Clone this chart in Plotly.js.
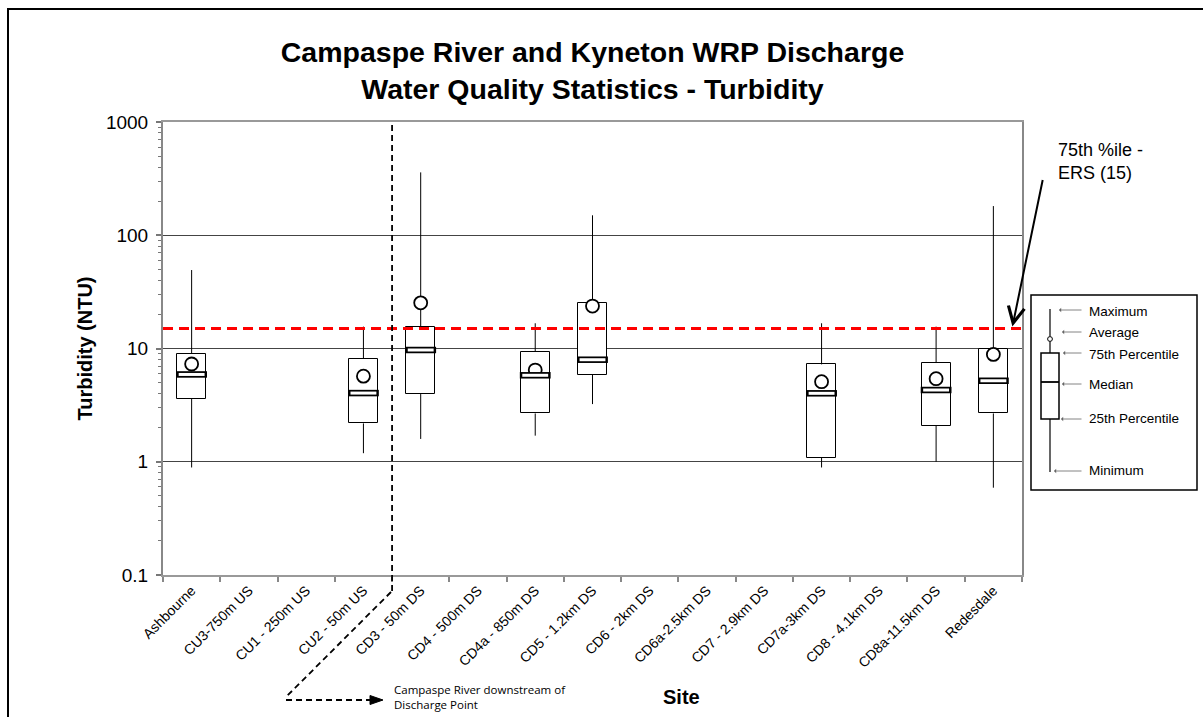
<!DOCTYPE html>
<html>
<head>
<meta charset="utf-8">
<script src="https://cdn.plot.ly/plotly-3.0.1.min.js"></script>
<style>
  html, body { margin: 0; padding: 0; background: #fff; }
  #chart { width: 1203px; height: 717px; }
  #frame { position: absolute; left: 7px; top: 8px; width: 1196px; height: 709px;
           border-top: 2px solid #000; border-left: 2px solid #000; pointer-events: none; }
</style>
</head>
<body>
<div id="chart"></div>
<div id="frame"></div>
<script>
// ---------- data ----------
const sites = ['Ashbourne', 'CU3-750m US', 'CU1 - 250m US', 'CU2 - 50m US', 'CD3 - 50m DS',
  'CD4 - 500m DS', 'CD4a - 850m DS', 'CD5 - 1.2km DS', 'CD6 - 2km DS', 'CD6a-2.5km DS',
  'CD7 - 2.9km DS', 'CD7a-3km DS', 'CD8 - 4.1km DS', 'CD8a-11.5km DS', 'Redesdale'];
const minimum = [0.89, null, null, 1.19, 1.59, null, 1.70, 3.23, null, null, null, 0.89, null, 1.00, 0.59];
const q1      = [3.58, null, null, 2.18, 3.96, null, 2.67, 5.86, null, null, null, 1.09, null, 2.08, 2.67];
const median  = [5.90, null, null, 4.04, 9.70, null, 5.80, 7.96, null, null, null, 4.02, null, 4.30, 5.19];
const q3      = [9.00, null, null, 8.10, 15.4, null, 9.36, 25.3, null, null, null, 7.24, null, 7.44, 9.80];
const average = [7.30, null, null, 5.70, 25.3, null, 6.45, 23.7, null, null, null, 5.09, null, 5.41, 8.87];
const maximum = [49.3, null, null, 15.6, 359,  null, 16.7, 150,  null, null, null, 16.7, null, 15.6, 181];
const ersLimit = 15;           // 75th percentile ERS objective (NTU)
const dischargeBoundary = 3.5; // between CU2 and CD3 (category index)
const yTickVals = [0.1, 1, 10, 100, 1000];
const yTickText = ['0.1', '1', '10', '100', '1000'];

// ---------- geometry helpers (plot area in pixels) ----------
const M = { l: 163, r: 181, t: 122, b: 142 };
const W = 1203, H = 717;
const PW = W - M.l - M.r, PH = H - M.t - M.b;
const xp = px => (px - M.l) / PW;
const yp = py => (H - M.b - py) / PH;

const FONT = 'Liberation Sans, Arial, Helvetica, sans-serif';

// ---------- traces ----------
const boxes = {
  type: 'bar', x: sites,
  y: q3.map((v, i) => (v == null ? null : v - q1[i])),
  base: q1, width: 0.51,
  marker: { color: '#ffffff', line: { color: '#000000', width: 1 } },
  hoverinfo: 'skip', showlegend: false
};

const wx = [], wy = [];
sites.forEach((s, i) => {
  if (minimum[i] == null) return;
  wx.push(s, s, null, s, s, null);
  wy.push(minimum[i], q1[i], null, q3[i], maximum[i], null);
});
const whiskers = {
  type: 'scatter', mode: 'lines', x: wx, y: wy, connectgaps: false,
  line: { color: '#000000', width: 1 }, hoverinfo: 'skip', showlegend: false
};

const medOuter = {
  type: 'scatter', mode: 'markers', x: sites, y: median,
  marker: { symbol: 'line-ew', size: 22, color: '#000', line: { color: '#000', width: 6.5 } },
  showlegend: false, name: 'Median'
};
const medInner = {
  type: 'scatter', mode: 'markers', x: sites, y: median,
  marker: { symbol: 'line-ew', size: 18.5, color: '#fff', line: { color: '#fff', width: 3 } },
  showlegend: false, hoverinfo: 'skip'
};
const avg = {
  type: 'scatter', mode: 'markers', x: sites, y: average,
  marker: { symbol: 'circle', size: 13, color: '#ffffff', line: { color: '#000000', width: 1.8 } },
  showlegend: false, name: 'Average'
};

// ---------- shapes ----------
const shapes = [
  // ERS line
  { type: 'line', xref: 'paper', yref: 'y', x0: 0, x1: 1, y0: ersLimit, y1: ersLimit,
    line: { color: '#ff0000', width: 3, dash: '10px,6px' }, layer: 'above' },
  // discharge point vertical dashed line
  { type: 'line', xref: 'x', yref: 'paper', x0: dischargeBoundary, x1: dischargeBoundary,
    y0: yp(125), y1: yp(592), line: { color: '#000', width: 1.8, dash: '6px,4px' }, layer: 'above' },
  { type: 'line', xref: 'paper', yref: 'paper', x0: xp(391), y0: yp(592), x1: xp(286), y1: yp(697),
    line: { color: '#000', width: 1.8, dash: '6px,4px' } },
  { type: 'line', xref: 'paper', yref: 'paper', x0: xp(286), y0: yp(700), x1: xp(372), y1: yp(700),
    line: { color: '#000', width: 1.8, dash: '6px,4px' } },
  { type: 'path', xref: 'paper', yref: 'paper',
    path: `M${xp(370)},${yp(695.5)} L${xp(383)},${yp(700)} L${xp(370)},${yp(704.5)} Z`,
    fillcolor: '#000', line: { color: '#000', width: 1 } },
  // key box
  { type: 'rect', xref: 'paper', yref: 'paper', x0: xp(1031), x1: xp(1197), y0: yp(295), y1: yp(490),
    line: { color: '#000', width: 1.5 }, fillcolor: '#fff' },
  { type: 'line', xref: 'paper', yref: 'paper', x0: xp(1050), x1: xp(1050), y0: yp(309), y1: yp(336.5),
    line: { color: '#000', width: 1.2 } },
  { type: 'circle', xref: 'paper', yref: 'paper', x0: xp(1047.6), x1: xp(1052.4), y0: yp(336.6), y1: yp(341.4),
    line: { color: '#000', width: 1 }, fillcolor: '#fff' },
  { type: 'line', xref: 'paper', yref: 'paper', x0: xp(1050), x1: xp(1050), y0: yp(341.5), y1: yp(353),
    line: { color: '#000', width: 1.2 } },
  { type: 'rect', xref: 'paper', yref: 'paper', x0: xp(1041), x1: xp(1059), y0: yp(353), y1: yp(419),
    line: { color: '#000', width: 1.5 }, fillcolor: '#fff' },
  { type: 'line', xref: 'paper', yref: 'paper', x0: xp(1041), x1: xp(1059), y0: yp(382), y1: yp(382),
    line: { color: '#000', width: 1.8 } },
  { type: 'line', xref: 'paper', yref: 'paper', x0: xp(1050), x1: xp(1050), y0: yp(419), y1: yp(472),
    line: { color: '#000', width: 1.2 } }
];

// ---------- annotations ----------
const keyItems = [
  ['Maximum', 1059, 310, 311],
  ['Average', 1062, 332, 332],
  ['75th Percentile', 1063, 353, 354],
  ['Median', 1062, 384, 384],
  ['25th Percentile', 1061, 419, 418],
  ['Minimum', 1054, 471, 470]
];
const annotations = [];
keyItems.forEach(([label, tipX, tipY, textY]) => {
  annotations.push({ xref: 'paper', yref: 'paper', x: xp(tipX), y: yp(tipY), text: '',
    showarrow: true, ax: 1083 - tipX, ay: 0, axref: 'pixel', ayref: 'pixel',
    arrowhead: 1, arrowsize: 0.9, arrowwidth: 0.8, arrowcolor: '#666', standoff: 0 });
  annotations.push({ xref: 'paper', yref: 'paper', x: xp(1087), y: yp(textY), text: label,
    showarrow: false, xanchor: 'left', yanchor: 'middle',
    font: { family: FONT, size: 13.5, color: '#000' } });
});
annotations.push(
  { xref: 'paper', yref: 'paper', x: xp(1056), y: yp(161), text: '75th %ile -<br>ERS (15)',
    showarrow: false, xanchor: 'left', yanchor: 'middle', align: 'left',
    font: { family: FONT, size: 18, color: '#000' } },
  { xref: 'paper', yref: 'y', x: xp(1012), y: Math.log10(ersLimit), text: '',
    showarrow: true, ax: 31, ay: -150, axref: 'pixel', ayref: 'pixel',
    arrowhead: 5, arrowsize: 1.6, arrowwidth: 2, arrowcolor: '#000', standoff: 2 },
  { xref: 'paper', yref: 'paper', x: xp(392), y: yp(697), text: 'Campaspe River downstream of<br>Discharge Point',
    showarrow: false, xanchor: 'left', yanchor: 'middle', align: 'left',
    font: { family: 'Open Sans, sans-serif', size: 11.5, color: '#000' } },
  { xref: 'paper', yref: 'paper', x: xp(681), y: yp(697), text: '<b>Site</b>',
    showarrow: false, xanchor: 'center', yanchor: 'middle',
    font: { family: FONT, size: 20, color: '#000' } }
);

// ---------- layout ----------
const layout = {
  width: W, height: H,
  margin: M,
  paper_bgcolor: '#ffffff', plot_bgcolor: '#ffffff',
  font: { family: FONT, color: '#000' },
  title: {
    text: '<b>Campaspe River and Kyneton WRP Discharge<br>Water Quality Statistics - Turbidity</b>',
    font: { family: FONT, size: 28.5, color: '#000' },
    x: 0.5, xref: 'paper', xanchor: 'center', y: 1 - 62 / H, yref: 'container', yanchor: 'middle'
  },
  xaxis: {
    type: 'category', range: [-0.5, sites.length - 0.5],
    tickson: 'boundaries', ticks: 'outside', ticklen: 5, tickwidth: 1.5, tickcolor: '#888',
    tickangle: -45, tickfont: { family: FONT, size: 14, color: '#000' },
    showline: true, linecolor: '#999', linewidth: 2, mirror: true,
    showgrid: false, zeroline: false, fixedrange: true
  },
  yaxis: {
    type: 'log', range: [-1, 3],
    tickmode: 'array', tickvals: yTickVals, ticktext: yTickText,
    ticks: 'outside', ticklen: 5, tickwidth: 1.5, tickcolor: '#777',
    minor: { ticks: 'outside', ticklen: 3, tickwidth: 1, tickcolor: '#777', showgrid: false, dtick: 'D1' },
    tickfont: { family: FONT, size: 19, color: '#000' }, ticklabelstandoff: 4,
    showline: true, linecolor: '#888', linewidth: 2, mirror: true,
    showgrid: true, gridcolor: '#444', gridwidth: 1, zeroline: false,
    title: { text: '<b>Turbidity (NTU)</b>', font: { family: FONT, size: 20, color: '#000' }, standoff: 8 },
    fixedrange: true
  },
  bargap: 0, showlegend: false, hovermode: 'closest',
  shapes: shapes, annotations: annotations
};

Plotly.newPlot('chart', [boxes, whiskers, avg, medOuter, medInner], layout,
  { displayModeBar: false, staticPlot: false });
</script>
</body>
</html>
